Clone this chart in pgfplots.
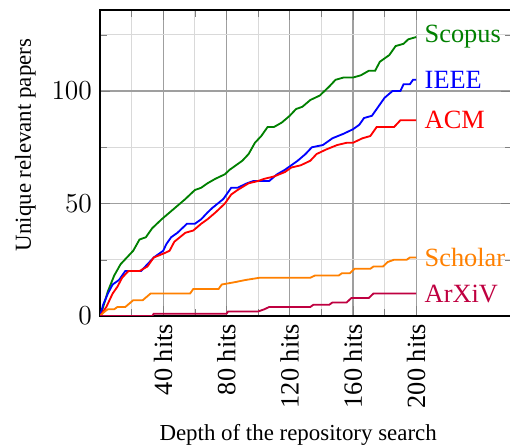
\documentclass[border=0pt]{standalone}
\usepackage{fontspec}
\setmainfont{Liberation Serif}
\usepackage{pgfplots}
\pgfplotsset{compat=1.18}

\newcommand{\lbl}{\fontsize{11.5}{13}\selectfont}

\begin{document}
\begin{tikzpicture}
% frame of the reference: right edge cut at the axis box
\useasboundingbox (-43.67pt,-57.64pt) rectangle (179.04pt,137.99pt);
\begin{axis}[
    at={(0,0)}, anchor=south west,
    scale only axis,
    width=179.5pt, height=133.6pt,
    xmin=0, xmax=260,
    ymin=0, ymax=136,
    xtick={40,80,120,160,200},
    xticklabels={40 hits,80 hits,120 hits,160 hits,200 hits},
    minor xtick={20,60,100,140,180},
    ytick={0,50,100},
    minor ytick={25,75,125},
    grid=both,
    major grid style={gray!75, line width=0.5pt},
    minor grid style={gray!30, line width=0.5pt},
    axis line style={line width=1.2pt},
    x tick label style={rotate=90, anchor=east, font=\lbl},
    y tick label style={font=\lbl},
    xlabel={Depth of the repository search},
    ylabel={Unique relevant papers},
    xlabel style={at={(ticklabel cs:0.482)}},
    ylabel style={at={(ticklabel cs:0.559)}},
    every axis plot/.append style={thick},
]

\addplot[green!50!black] coordinates {
    (0,0) (2,4) (5,11) (9,18) (13,23) (17,26) (21,29) (25,34) (29,35) (33,39)
    (39,43) (44,46) (49,49) (54,52) (60,56) (64,57) (68,59) (73,61) (79,63)
    (82,65) (86,67) (90,69) (94,72) (98,77) (102,80) (106,84) (110,84) (115,86)
    (120,89) (124,92) (128,93) (133,96) (139,98) (145,102) (149,105) (154,106)
    (160,106) (165,107) (170,109) (174,109) (177,113) (183,116) (187,120)
    (192,121) (195,123) (200,124)
} node[pos=1, anchor=west, font=\lbl] {Scopus};

\addplot[blue] coordinates {
    (0,0) (2,5) (5,10) (8,14) (12,16) (16,20) (20,20) (26,20) (30,23) (34,26)
    (40,29) (42,32) (45,35) (49,37) (55,41) (60,41) (64,43) (68,46) (71,48)
    (78,52) (83,57) (87,57) (93,59) (97,60) (107,60) (112,63) (117,65) (121,67)
    (125,69) (130,72) (134,75) (141,76) (147,79) (154,81) (160,83) (164,85)
    (167,88) (172,89) (176,93) (180,97) (185,100) (190,100) (192,103) (196,103)
    (198,105) (200,105)
} node[pos=1, anchor=west, font=\lbl] {IEEE};

\addplot[red] coordinates {
    (0,0) (4,4) (8,10) (11,13) (14,17) (18,20) (25,20) (30,22) (34,26) (41,28)
    (44,29) (47,33) (54,37) (59,38) (64,41) (68,43) (73,46) (79,50) (83,54)
    (87,56) (94,59) (100,60) (104,61) (110,62) (117,64) (121,66) (127,67)
    (133,69) (137,72) (143,74) (150,76) (156,77) (160,77) (166,79) (171,80)
    (175,84) (186,84) (190,87) (200,87)
} node[pos=1, anchor=west, font=\lbl] {ACM};

\addplot[orange] coordinates {
    (0,0) (3,2) (5,3) (9,3) (11,4) (16,4) (21,7) (27,7) (32,10) (57,10) (59,12)
    (75,12) (77,14) (85,15) (92,16) (101,17) (133,17) (136,18) (151,18) (153,19)
    (158,19) (161,21) (171,21) (173,22) (179,22) (182,24) (186,25) (194,25)
    (196,26) (200,26)
} node[pos=1, anchor=west, font=\lbl] {Scholar};

\addplot[purple] coordinates {
    (0,0) (33,0) (34,1) (80,1) (81,2) (100,2) (104,3) (107,4) (133,4) (135,5)
    (145,5) (147,6) (156,6) (159,8) (170,8) (173,10) (200,10)
} node[pos=1, anchor=west, font=\lbl] {ArXiV};

\end{axis}
\end{tikzpicture}
\end{document}
